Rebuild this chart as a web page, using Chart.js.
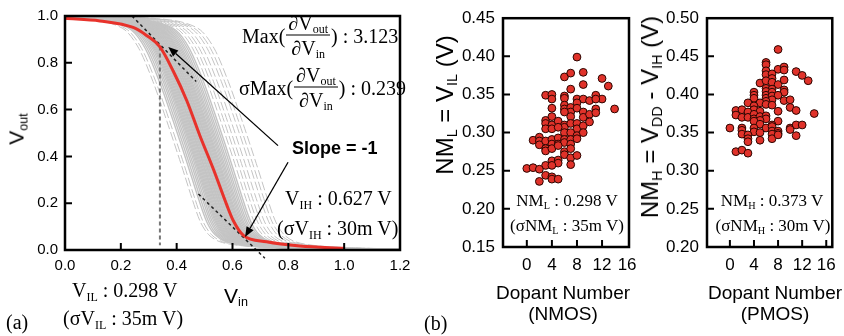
<!DOCTYPE html>
<html>
<head>
<meta charset="utf-8">
<script src="https://cdn.jsdelivr.net/npm/chart.js@4.4.1/dist/chart.umd.min.js"></script>
<style>
  body { margin: 0; background: #fff; }
  #wrap { position: relative; width: 844px; height: 336px; overflow: hidden; }
  canvas { position: absolute; left: 0; top: 0; }
  .t { position: absolute; white-space: nowrap; color: #000; line-height: 1; }
  .serif { font-family: "Liberation Serif", "Times New Roman", serif; }
  .sans { font-family: "Liberation Sans", Arial, sans-serif; }
  .c { transform: translate(-50%, -50%); }
  .l { transform: translateY(-50%); }
  .rot { transform: translate(-50%, -50%) rotate(-90deg); }
  sub { font-size: 60%; vertical-align: -0.3em; line-height: 0; }
  .row { display: flex; align-items: center; }
  .frac { display: inline-flex; flex-direction: column; align-items: center; margin: 0 1px; }
  .frac .num { border-bottom: 1px solid #000; padding: 0 2px 2px; }
  .frac .den { padding-top: 2px; }
</style>
</head>
<body>
<div id="wrap">
  <canvas id="vtc" width="844" height="336"></canvas>
  <canvas id="nml" width="844" height="336"></canvas>
  <canvas id="nmh" width="844" height="336"></canvas>

  <!-- (a) labels -->
  <div class="t sans rot" style="left:16px;top:129px;font-size:21px">V<sub>out</sub></div>
  <div class="t sans c" style="left:236px;top:295px;font-size:21px">V<sub>in</sub></div>
  <div class="t serif row l" style="left:242px;top:35px;font-size:20px">Max(<span class="frac"><span class="num">∂V<sub>out</sub></span><span class="den">∂V<sub>in</sub></span></span>) : 3.123</div>
  <div class="t serif row l" style="left:239px;top:87px;font-size:20px">σMax(<span class="frac"><span class="num">∂V<sub>out</sub></span><span class="den">∂V<sub>in</sub></span></span>) : 0.239</div>
  <div class="t sans l" style="left:292px;top:148px;font-size:18px;font-weight:bold">Slope = -1</div>
  <div class="t serif l" style="left:285px;top:198px;font-size:20px">V<sub>IH</sub> : 0.627 V</div>
  <div class="t serif l" style="left:277px;top:228px;font-size:20px">(σV<sub>IH</sub> : 30m V)</div>
  <div class="t serif l" style="left:72px;top:290px;font-size:20px">V<sub>IL</sub> : 0.298 V</div>
  <div class="t serif l" style="left:63px;top:318px;font-size:20px">(σV<sub>IL</sub> : 35m V)</div>
  <div class="t serif l" style="left:6px;top:322px;font-size:20px">(a)</div>

  <!-- (b) labels -->
  <div class="t sans rot" style="left:445px;top:105px;font-size:24px">NM<sub>L</sub> = V<sub>IL</sub> (V)</div>
  <div class="t sans c" style="left:563px;top:292px;font-size:19px">Dopant Number</div>
  <div class="t sans c" style="left:563px;top:313px;font-size:19px">(NMOS)</div>
  <div class="t serif c" style="left:567px;top:200px;font-size:17px">NM<sub>L</sub> : 0.298 V</div>
  <div class="t serif c" style="left:567px;top:225px;font-size:17px">(σNM<sub>L</sub> : 35m V)</div>
  <div class="t serif l" style="left:424px;top:323px;font-size:20px">(b)</div>

  <div class="t sans rot" style="left:650px;top:117px;font-size:24px">NM<sub>H</sub> = V<sub>DD</sub> - V<sub>IH</sub> (V)</div>
  <div class="t sans c" style="left:775px;top:292px;font-size:19px">Dopant Number</div>
  <div class="t sans c" style="left:775px;top:313px;font-size:19px">(PMOS)</div>
  <div class="t serif c" style="left:772px;top:200px;font-size:17px">NM<sub>H</sub> : 0.373 V</div>
  <div class="t serif c" style="left:773px;top:225px;font-size:17px">(σNM<sub>H</sub> : 30m V)</div>
</div>

<script>
// ---- (a) transfer curves ----
const vinMean  = [0, 0.125, 0.244, 0.292, 0.34, 0.388, 0.436, 0.484, 0.531, 0.579, 0.603, 0.639, 0.722, 0.842, 1.0];
const voutMean = [0.99, 0.979, 0.951, 0.917, 0.868, 0.764, 0.639, 0.486, 0.347, 0.194, 0.125, 0.0625, 0.035, 0.017, 0.007];

// shape of a single Monte Carlo curve, and the Vin offsets of the curves
const vinShape  = [-0.2, 0, 0.15, 0.25, 0.32, 0.37, 0.42, 0.47, 0.52, 0.56, 0.59, 0.62, 0.66, 0.74, 0.9, 1.1];
const voutShape = [1.0, 0.995, 0.99, 0.975, 0.94, 0.86, 0.72, 0.55, 0.37, 0.22, 0.12, 0.065, 0.035, 0.018, 0.008, 0.004];
const coreShifts = [-0.082, -0.075, -0.068, -0.062, -0.056, -0.051, -0.047, -0.043, -0.039, -0.035, -0.031, -0.027,
  -0.024, -0.02, -0.016, -0.013, -0.009, -0.006, -0.002, 0.001, 0.005, 0.008, 0.012, 0.015, 0.019, 0.023,
  0.027, 0.031, 0.035, 0.04, 0.045, 0.05, 0.056, 0.062, 0.069, 0.076];
const outerShifts = [-0.105, -0.095, 0.088, 0.1, 0.112, 0.125, 0.14, 0.152, 0.165];

const tangentHighVin = [0.24, 0.47],   tangentHighVout = [1.0, 0.72];
const tangentLowVin  = [0.478, 0.716], tangentLowVout  = [0.239, -0.035];
const vilMarkVin     = [0.34, 0.34],   vilMarkVout     = [0.87, 0.02];

const arrowFromVin = [0.763, 0.799], arrowFromVout = [0.446, 0.375];
const arrowToVin   = [0.370, 0.645], arrowToVout   = [0.868, 0.056];

const vinTicks  = [0, 0.2, 0.4, 0.6, 0.8, 1.0, 1.2];
const voutTicks = [0, 0.2, 0.4, 0.6, 0.8, 1.0];

// ---- (b) noise margins vs dopant number ----
const nmlDopant = [8, 6, 7, 9, 12, 13, 9, 7, 3, 4, 4, 6, 6, 8, 9, 8, 10, 11, 12, 11, 14, 4, 6, 6, 7, 7, 8, 9, 9, 10,
  11, 11, 7, 6, 3, 4, 3, 4, 5, 6, 6, 7, 8, 8, 9, 10, 3, 4, 5, 6, 7, 8, 9, 1, 2, 2, 2, 3, 4, 4,
  5, 5, 6, 6, 7, 7, 8, 3, 3, 4, 5, 6, 6, 7, 8, 7, 4, 5, 5, 3, 4, 7, 0, 1, 2, 3, 4, 4, 5, 2];
const nmlValue = [0.399, 0.373, 0.378, 0.379, 0.371, 0.361, 0.363, 0.357, 0.349, 0.350, 0.344, 0.348, 0.345, 0.344,
  0.344, 0.339, 0.342, 0.349, 0.344, 0.344, 0.331, 0.332, 0.336, 0.331, 0.333, 0.327, 0.332, 0.327, 0.320, 0.324,
  0.331, 0.326, 0.321, 0.327, 0.316, 0.321, 0.312, 0.310, 0.315, 0.310, 0.307, 0.312, 0.312, 0.305, 0.309, 0.314,
  0.305, 0.305, 0.307, 0.300, 0.300, 0.296, 0.300, 0.290, 0.294, 0.289, 0.284, 0.289, 0.291, 0.285,
  0.293, 0.285, 0.291, 0.287, 0.291, 0.285, 0.292, 0.279, 0.276, 0.279, 0.283, 0.275, 0.271, 0.267, 0.270, 0.279,
  0.263, 0.264, 0.260, 0.257, 0.257, 0.258, 0.253, 0.254, 0.252, 0.244, 0.242, 0.239, 0.239, 0.236];

const nmhDopant = [8, 6, 6, 8, 9, 9, 11, 12, 13, 6, 6, 7, 7, 5, 6, 7, 8, 9, 6, 7, 9, 9, 4, 4, 4, 6, 6, 6, 7, 7,
  8, 7, 6, 9, 10, 3, 5, 6, 7, 10, 4, 4, 1, 2, 3, 5, 8, 11, 14, 1, 2, 3, 4, 4, 5, 6, 6, 5, 4, 8,
  5, 7, 10, 11, 12, 0, 2, 4, 6, 7, 10, 2, 2, 4, 5, 7, 8, 8, 7, 11, 3, 3, 3, 5, 7, 8, 1, 2, 3];
const nmhValue = [0.459, 0.442, 0.439, 0.433, 0.436, 0.432, 0.430, 0.425, 0.418, 0.431, 0.426, 0.427, 0.421, 0.415,
  0.418, 0.416, 0.413, 0.419, 0.408, 0.407, 0.406, 0.403, 0.403, 0.399, 0.395, 0.404, 0.399, 0.395, 0.403, 0.398,
  0.399, 0.393, 0.391, 0.392, 0.393, 0.389, 0.389, 0.387, 0.386, 0.383, 0.385, 0.380, 0.379, 0.380, 0.377, 0.378,
  0.378, 0.379, 0.375, 0.373, 0.370, 0.370, 0.374, 0.368, 0.371, 0.372, 0.368, 0.366, 0.365, 0.365,
  0.361, 0.360, 0.356, 0.360, 0.360, 0.356, 0.356, 0.356, 0.356, 0.358, 0.354, 0.353, 0.348, 0.351, 0.350, 0.352,
  0.352, 0.349, 0.348, 0.346, 0.347, 0.342, 0.338, 0.340, 0.342, 0.347, 0.325, 0.327, 0.323];

const dopantTicks = [0, 4, 8, 12, 16];
const nmlTicks = [0.15, 0.20, 0.25, 0.30, 0.35, 0.40, 0.45];
const nmhTicks = [0.20, 0.25, 0.30, 0.35, 0.40, 0.45, 0.50];

const SANS = '"Liberation Sans", Arial, sans-serif';
const pts = (xs, ys) => xs.map((x, i) => ({ x, y: ys[i] }));

// frame, inward tick marks and arrows
const frameTicks = {
  id: 'frameTicks',
  afterDatasetsDraw(chart, args, opts) {
    const { ctx, chartArea: a, scales: { x, y } } = chart;
    ctx.save();
    ctx.strokeStyle = '#000';
    ctx.lineWidth = 2;
    ctx.beginPath();
    opts.xTicks.forEach(v => {
      const px = x.getPixelForValue(v);
      if (px <= a.left + 2 || px >= a.right - 2) return;
      ctx.moveTo(px, a.bottom);
      ctx.lineTo(px, a.bottom - 7);
    });
    opts.yTicks.forEach(v => {
      const py = y.getPixelForValue(v);
      if (py <= a.top + 2 || py >= a.bottom - 2) return;
      ctx.moveTo(a.left, py);
      ctx.lineTo(a.left + 7, py);
    });
    ctx.stroke();
    ctx.lineWidth = 2.5;
    ctx.strokeRect(a.left, a.top, a.right - a.left, a.bottom - a.top);

    if (opts.arrows) {
      ctx.fillStyle = '#000';
      ctx.lineWidth = 1.3;
      opts.arrows.fromX.forEach((fx, i) => {
        const x0 = x.getPixelForValue(fx), y0 = y.getPixelForValue(opts.arrows.fromY[i]);
        const x1 = x.getPixelForValue(opts.arrows.toX[i]), y1 = y.getPixelForValue(opts.arrows.toY[i]);
        const ang = Math.atan2(y1 - y0, x1 - x0);
        const hl = 10, hw = 4;
        const bx = x1 - hl * Math.cos(ang), by = y1 - hl * Math.sin(ang);
        ctx.beginPath();
        ctx.moveTo(x0, y0);
        ctx.lineTo(bx, by);
        ctx.stroke();
        ctx.beginPath();
        ctx.moveTo(x1, y1);
        ctx.lineTo(bx + hw * Math.sin(ang), by - hw * Math.cos(ang));
        ctx.lineTo(bx - hw * Math.sin(ang), by + hw * Math.cos(ang));
        ctx.closePath();
        ctx.fill();
      });
    }
    ctx.restore();
  }
};

function linearAxis(min, max, tickValues, digits, fontSize, pad, fitSize, isX) {
  return {
    type: 'linear', min, max,
    afterBuildTicks: s => { s.ticks = tickValues.map(v => ({ value: v })); },
    afterFit: s => { if (isX) s.height = fitSize; else s.width = fitSize; },
    ticks: {
      callback: v => digits === 0 ? String(v) : Number(v).toFixed(digits),
      font: { family: SANS, size: fontSize }, color: '#000', padding: pad,
      autoSkip: false, maxRotation: 0
    },
    grid: { display: false, drawTicks: false },
    border: { display: false }
  };
}

const baseOpts = {
  responsive: false, animation: false, events: [],
  plugins: { legend: { display: false }, tooltip: { enabled: false } }
};

// (a)
const grayCurve = (s, dashed) => ({
  data: pts(vinShape.map(v => v + s), voutShape),
  showLine: true, borderColor: '#c4c4c4', borderWidth: dashed ? 1 : 1.4,
  borderDash: dashed ? [9, 3] : [], pointRadius: 0, tension: 0.3
});
const grayDatasets = [
  ...coreShifts.map(s => grayCurve(s, false)),
  ...outerShifts.map(s => grayCurve(s, true))
];

new Chart(document.getElementById('vtc'), {
  type: 'scatter',
  data: {
    datasets: [
      { data: pts(vinMean, voutMean), showLine: true, borderColor: '#e8322b', borderWidth: 3,
        pointRadius: 0, cubicInterpolationMode: 'monotone' },
      { data: pts(tangentHighVin, tangentHighVout), showLine: true, borderColor: '#222', borderWidth: 1.5,
        borderDash: [3, 3], pointRadius: 0 },
      { data: pts(tangentLowVin, tangentLowVout), showLine: true, borderColor: '#222', borderWidth: 1.5,
        borderDash: [3, 3], pointRadius: 0, clip: false },
      { data: pts(vilMarkVin, vilMarkVout), showLine: true, borderColor: '#777', borderWidth: 2,
        borderDash: [4, 3], pointRadius: 0 },
      ...grayDatasets
    ]
  },
  options: {
    ...baseOpts,
    layout: { padding: { left: 5, right: 444, top: 10, bottom: 56 } },
    scales: {
      x: linearAxis(0, 1.2, vinTicks, 1, 15, 7, 30, true),
      y: linearAxis(0, 1.0, voutTicks, 1, 15, 7, 60, false)
    },
    plugins: {
      ...baseOpts.plugins,
      frameTicks: {
        xTicks: vinTicks, yTicks: voutTicks,
        arrows: { fromX: arrowFromVin, fromY: arrowFromVout, toX: arrowToVin, toY: arrowToVout }
      }
    }
  },
  plugins: [frameTicks]
});

// (b) scatter charts
function scatterChart(id, xs, ys, yMin, yMax, yTicks, xMax, padLeft, padRight) {
  new Chart(document.getElementById(id), {
    type: 'scatter',
    data: {
      datasets: [{
        data: pts(xs, ys), backgroundColor: '#e0322a', borderColor: '#2a0500',
        borderWidth: 1, pointRadius: 3.9
      }]
    },
    options: {
      ...baseOpts,
      layout: { padding: { left: padLeft, right: padRight, top: 10, bottom: 59 } },
      scales: {
        x: linearAxis(-3.8, xMax, dopantTicks, 0, 17, 8, 30, true),
        y: linearAxis(yMin, yMax, yTicks, 2, 17, 8, 60, false)
      },
      plugins: { ...baseOpts.plugins, frameTicks: { xTicks: dopantTicks, yTicks } }
    },
    plugins: [frameTicks]
  });
}

scatterChart('nml', nmlDopant, nmlValue, 0.15, 0.45, nmlTicks, 16.3, 443, 215);
scatterChart('nmh', nmhDopant, nmhValue, 0.20, 0.50, nmhTicks, 17, 647, 6);
</script>
</body>
</html>
